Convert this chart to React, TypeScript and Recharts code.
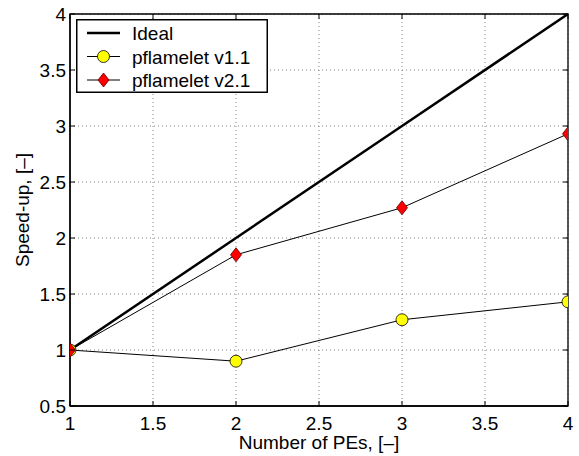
import React from "react";
import {CartesianGrid, Legend, Line, LineChart, ReferenceArea, XAxis, YAxis} from "recharts";

const processors = [1, 2, 3, 4];
const idealSpeedup = [1, 2, 3, 4];
const speedupV11 = [1, 0.9, 1.27, 1.43];
const speedupV21 = [1, 1.85, 2.27, 2.93];
const xTicks = [1, 1.5, 2, 2.5, 3, 3.5, 4];
const yTicks = [0.5, 1, 1.5, 2, 2.5, 3, 3.5, 4];

const data = processors.map((pe, i) => ({
  pe,
  ideal: idealSpeedup[i],
  v11: speedupV11[i],
  v21: speedupV21[i],
}));

const FONT = '"Liberation Sans", Arial, Helvetica, sans-serif';
const PLOT = {left: 70, right: 568, top: 14, bottom: 406};
const TICK_LEN = 5;

const XTick = (props: any) => {
  const {x, payload} = props;
  return (
      <g>
        <line x1={x} x2={x} y1={PLOT.bottom} y2={PLOT.bottom - TICK_LEN} stroke="#000"/>
        <line x1={x} x2={x} y1={PLOT.top} y2={PLOT.top + TICK_LEN} stroke="#000"/>
        <text x={x} y={430} textAnchor="middle" fontSize={19} fontFamily={FONT} fill="#000">
          {payload.value}
        </text>
      </g>
  );
};

const YTick = (props: any) => {
  const {y, payload} = props;
  return (
      <g>
        <line x1={PLOT.left} x2={PLOT.left + TICK_LEN} y1={y} y2={y} stroke="#000"/>
        <line x1={PLOT.right} x2={PLOT.right - TICK_LEN} y1={y} y2={y} stroke="#000"/>
        <text x={66} y={y + 7} textAnchor="end" fontSize={19} fontFamily={FONT} fill="#000">
          {payload.value}
        </text>
      </g>
  );
};

const Diamond = (props: any) => {
  const {cx, cy} = props;
  if (cx == null || cy == null) return null;
  return (
      <path d={`M${cx},${cy - 7} L${cx + 5.5},${cy} L${cx},${cy + 7} L${cx - 5.5},${cy} Z`}
            fill="#ff0000" stroke="#5a0000" strokeWidth={0.8}/>
  );
};

const LegendBox = () => {
  const rows = [
    {label: "Ideal", kind: "ideal"},
    {label: "pflamelet v1.1", kind: "circle"},
    {label: "pflamelet v2.1", kind: "diamond"},
  ];
  return (
      <svg width={192} height={74} style={{display: "block"}}>
        <rect x={0.75} y={0.75} width={190.5} height={72.5} fill="#fff" stroke="#000" strokeWidth={1.5}/>
        {rows.map((r, i) => {
          const cy = 14 + i * 23.5;
          return (
              <g key={r.label}>
                <line x1={11} x2={44} y1={cy} y2={cy} stroke="#000" strokeWidth={r.kind === "ideal" ? 2.5 : 1}/>
                {r.kind === "circle" && <circle cx={27.5} cy={cy} r={6} fill="#ffff00" stroke="#000" strokeWidth={0.8}/>}
                {r.kind === "diamond" && <Diamond cx={27.5} cy={cy}/>}
                <text x={56} y={cy + 7} fontSize={19} fontFamily={FONT} fill="#000">{r.label}</text>
              </g>
          );
        })}
      </svg>
  );
};

export default function App() {
  return (
      <div style={{position: "absolute", left: 0, top: 0, background: "#fff"}}>
        <LineChart width={579} height={456} data={data}
                   margin={{top: 14, right: 11, bottom: 0, left: 0}}>
          <CartesianGrid stroke="#666" strokeDasharray="1 3" strokeWidth={0.8}/>
          <XAxis dataKey="pe" type="number" domain={[1, 4]} ticks={xTicks} height={50}
                 axisLine={{stroke: "#000", strokeWidth: 1.3}} tickLine={false} tick={<XTick/>}
                 interval={0} allowDataOverflow
                 label={{
                   content: () => (
                       <text x={319} y={449} textAnchor="middle" fontSize={19} fontFamily={FONT} fill="#000">
                         Number of PEs, [–]
                       </text>
                   ),
                 }}/>
          <YAxis type="number" domain={[0.5, 4]} ticks={yTicks} width={70}
                 axisLine={{stroke: "#000", strokeWidth: 1.3}} tickLine={false} tick={<YTick/>}
                 interval={0} allowDataOverflow
                 label={{
                   content: () => (
                       <text x={29} y={210} textAnchor="middle" fontSize={19} fontFamily={FONT} fill="#000"
                             transform="rotate(-90, 29, 210)">
                         Speed-up, [–]
                       </text>
                   ),
                 }}/>
          <ReferenceArea x1={1} x2={4} y1={0.5} y2={4} fill="none" stroke="#000" strokeWidth={1.3}/>
          <Line type="linear" dataKey="ideal" stroke="#000" strokeWidth={2.5} dot={false}
                isAnimationActive={false}/>
          <Line type="linear" dataKey="v11" stroke="#000" strokeWidth={1}
                dot={{r: 6, fill: "#ffff00", stroke: "#000", strokeWidth: 0.8}} activeDot={false}
                isAnimationActive={false}/>
          <Line type="linear" dataKey="v21" stroke="#000" strokeWidth={1}
                dot={<Diamond/>} activeDot={false}
                isAnimationActive={false}/>
          <Legend layout="horizontal" verticalAlign="middle" align="center"
                  wrapperStyle={{top: 19, left: 76, width: "auto"}}
                  content={() => <LegendBox/>}/>
        </LineChart>
      </div>
  );
}
